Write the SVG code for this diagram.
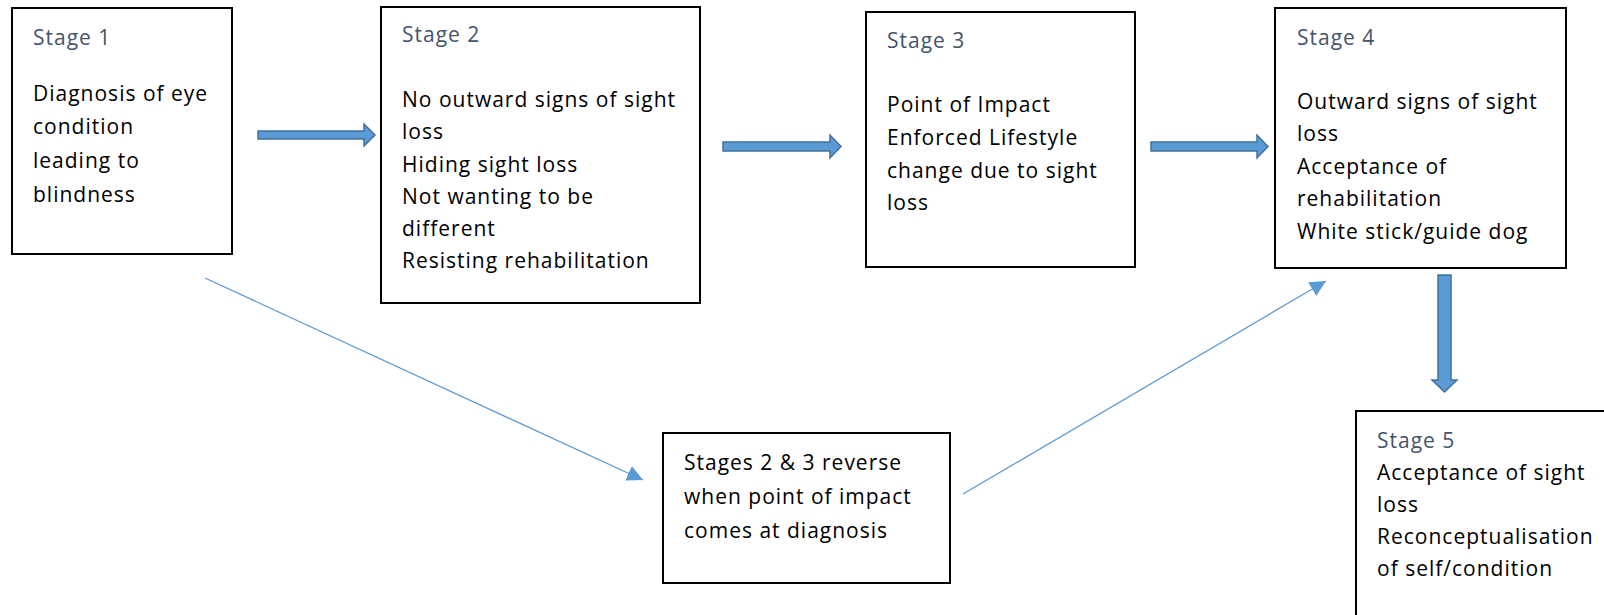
<svg xmlns="http://www.w3.org/2000/svg" width="1604" height="615" viewBox="0 0 1604 615">
<defs>
<style>
.box{fill:#fff;stroke:#000;stroke-width:2}
.t{font-family:"Open Sans","Liberation Sans",sans-serif;font-size:21px;fill:#000;letter-spacing:1px}
.h{fill:#44546A}
.blk{fill:#5B9BD5;stroke:#41719C;stroke-width:1.5}
.thin{fill:none;stroke:#5B9BD5;stroke-width:1.3}
</style>
<marker id="tri" viewBox="0 0 10 10" refX="10" refY="5" markerWidth="16" markerHeight="16" markerUnits="userSpaceOnUse" orient="auto">
<path d="M0,0 L10,5 L0,10 Z" fill="#5B9BD5"/>
</marker>
</defs>
<rect width="1604" height="615" fill="#fff"/>
<g id="connectors">
<path class="blk" d="M258,131 H364 V124 L375,135 L364,146 V139 H258 Z"/>
<path class="blk" d="M723,142 H830 V135 L841,146.5 L830,158 V151 H723 Z"/>
<path class="blk" d="M1151,142 H1257 V135 L1268,146.5 L1257,158 V151 H1151 Z"/>
<path class="blk" d="M1438,275 H1451 V380 H1457 L1444.5,392 L1432,380 H1438 Z"/>
<line class="thin" x1="205" y1="278" x2="643" y2="480" marker-end="url(#tri)"/>
<line class="thin" x1="963" y1="494" x2="1326" y2="281" marker-end="url(#tri)"/>
</g>
<g id="stage1">
<rect class="box" x="12" y="8" width="220" height="246"/>
<text class="t h" x="33" y="45">Stage 1</text>
<text class="t" x="33" y="101">Diagnosis of eye</text>
<text class="t" x="33" y="134">condition</text>
<text class="t" x="33" y="168">leading to</text>
<text class="t" x="33" y="202">blindness</text>
</g>
<g id="stage2">
<rect class="box" x="381" y="7" width="319" height="296"/>
<text class="t h" x="402" y="42">Stage 2</text>
<text class="t" x="402" y="107">No outward signs of sight</text>
<text class="t" x="402" y="139">loss</text>
<text class="t" x="402" y="172">Hiding sight loss</text>
<text class="t" x="402" y="204">Not wanting to be</text>
<text class="t" x="402" y="236">different</text>
<text class="t" x="402" y="268">Resisting rehabilitation</text>
</g>
<g id="stage3">
<rect class="box" x="866" y="12" width="269" height="255"/>
<text class="t h" x="887" y="48">Stage 3</text>
<text class="t" x="887" y="112">Point of Impact</text>
<text class="t" x="887" y="145">Enforced Lifestyle</text>
<text class="t" x="887" y="178">change due to sight</text>
<text class="t" x="887" y="210">loss</text>
</g>
<g id="stage4">
<rect class="box" x="1275" y="8" width="291" height="260"/>
<text class="t h" x="1297" y="45">Stage 4</text>
<text class="t" x="1297" y="109">Outward signs of sight</text>
<text class="t" x="1297" y="141">loss</text>
<text class="t" x="1297" y="174">Acceptance of</text>
<text class="t" x="1297" y="206">rehabilitation</text>
<text class="t" x="1297" y="239">White stick/guide dog</text>
</g>
<g id="stage5">
<rect class="box" x="1356" y="411" width="260" height="220"/>
<text class="t h" x="1377" y="448">Stage 5</text>
<text class="t" x="1377" y="480">Acceptance of sight</text>
<text class="t" x="1377" y="512">loss</text>
<text class="t" x="1377" y="544">Reconceptualisation</text>
<text class="t" x="1377" y="576">of self/condition</text>
</g>
<g id="reverse">
<rect class="box" x="663" y="433" width="287" height="150"/>
<text class="t" x="684" y="470">Stages 2 &amp; 3 reverse</text>
<text class="t" x="684" y="504">when point of impact</text>
<text class="t" x="684" y="538">comes at diagnosis</text>
</g>
</svg>
